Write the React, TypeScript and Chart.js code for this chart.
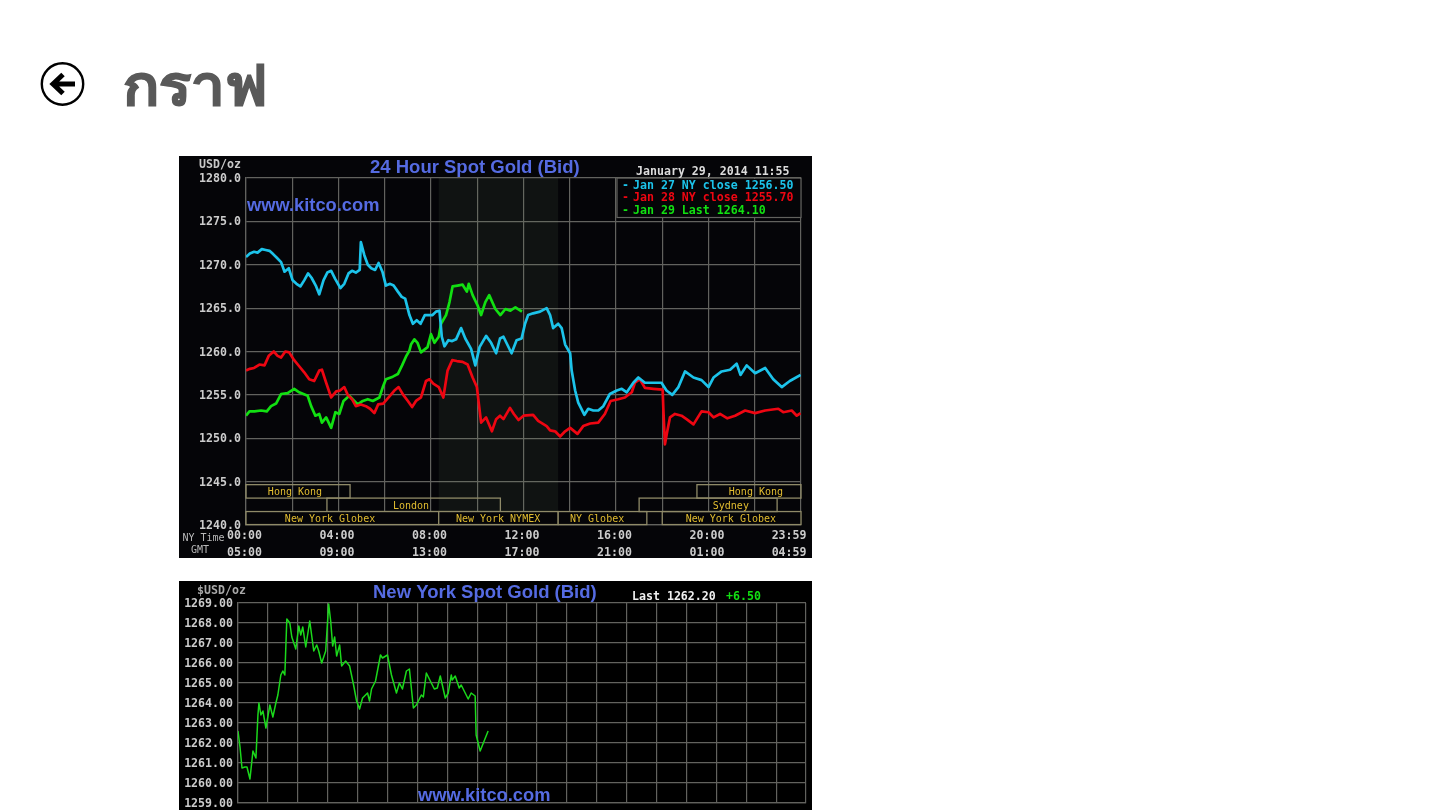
import React, { useEffect, useRef } from "react";
import { Chart, registerables } from "chart.js";

Chart.register(...registerables);

// ---------- 24 hour chart data ----------
const blueMinutes = [0,10,21,30,41,51,61,71,80,91,100,111,121,131,141,151,161,170,181,190,201,211,221,231,245,255,266,275,285,295,298,307,316,325,335,344,354,363,374,383,394,404,413,424,433,443,453,464,473,484,493,502,508,515,525,535,545,558,569,584,595,606,623,636,649,659,668,689,702,715,724,732,745,763,780,789,797,810,819,828,841,845,854,862,878,888,901,914,927,944,962,975,988,1005,1018,1035,1078,1091,1106,1122,1139,1161,1182,1200,1213,1234,1256,1273,1283,1299,1321,1347,1368,1390,1411,1439];
const blueValues = [1270.9,1271.3,1271.5,1271.4,1271.8,1271.7,1271.6,1271.2,1270.8,1270.3,1269.2,1269.6,1268.2,1267.8,1267.5,1268.2,1269,1268.5,1267.6,1266.6,1268.2,1269.1,1269.3,1268.4,1267.3,1267.8,1269,1269.3,1269.1,1269.4,1272.6,1271.1,1270,1269.6,1269.4,1270.2,1269.2,1267.6,1267.8,1267.6,1266.9,1266.3,1266.1,1264.2,1263.2,1263.6,1263.2,1264.2,1264.2,1264.2,1264.6,1264.7,1261.7,1260.6,1261.3,1261.2,1261.4,1262.7,1261.5,1260.3,1258.4,1260.5,1261.8,1261,1259.8,1261.5,1261.7,1259.8,1261.3,1261.5,1263.2,1264.2,1264.4,1264.6,1265,1264.2,1262.7,1263.2,1262.7,1260.8,1259.8,1257.8,1255.5,1254.1,1252.7,1253.4,1253.2,1253.2,1253.7,1255.1,1255.5,1255.7,1255.3,1256.4,1257,1256.4,1256.4,1255.5,1255,1255.9,1257.7,1257,1256.7,1255.9,1257,1257.7,1257.9,1258.6,1257.3,1258.4,1257.5,1258.1,1256.8,1255.9,1256.6,1257.3];

const redMinutes = [0,10,21,35,48,59,72,82,91,102,112,125,138,151,164,177,190,197,208,221,234,244,255,264,275,285,298,311,322,333,343,356,370,385,396,408,420,431,441,454,467,476,486,500,512,523,535,547,562,575,588,599,610,623,638,649,659,668,685,695,707,720,745,758,780,789,802,815,828,841,860,875,893,914,931,946,966,983,1001,1009,1022,1035,1057,1081,1083,1087,1093,1100,1113,1130,1143,1161,1182,1200,1213,1230,1249,1269,1295,1321,1347,1381,1394,1416,1429,1439];
const redValues = [1257.8,1258,1258.1,1258.5,1258.4,1259.5,1260,1259.5,1259.3,1260,1259.9,1259,1258.3,1257.6,1256.8,1256.6,1257.8,1257.9,1256.4,1254.7,1255.4,1255.5,1255.9,1255,1254.5,1253.7,1253.9,1253.7,1253.4,1252.9,1253.9,1254,1254.7,1255.5,1255.9,1255,1254.3,1253.6,1254.3,1254.7,1256.6,1256.8,1256.3,1255.9,1254.7,1257.8,1259,1258.9,1258.8,1258.5,1257,1255.9,1251.8,1252.4,1250.8,1252.2,1252.6,1252.2,1253.5,1252.8,1252.1,1252.6,1252.7,1252,1251.4,1250.9,1250.8,1250.2,1250.8,1251.2,1250.5,1251.4,1251.7,1251.8,1252.8,1254.3,1254.5,1254.7,1255.3,1256.4,1256.8,1255.8,1255.7,1255.6,1253.2,1249.3,1250.8,1252.4,1252.8,1252.6,1252.2,1251.6,1253.1,1253,1252.4,1252.8,1252.3,1252.6,1253.2,1252.9,1253.2,1253.4,1253,1253.2,1252.6,1252.9];

const greenMinutes = [0,9,22,39,54,65,78,91,108,125,138,160,169,180,190,197,208,221,232,242,253,268,281,290,303,316,329,346,355,363,381,394,405,415,424,428,437,445,454,471,480,489,500,506,519,528,536,549,562,573,578,588,601,610,621,631,647,660,673,686,699,716];
const greenValues = [1252.6,1253.1,1253.1,1253.2,1253.1,1253.7,1254,1255.1,1255.2,1255.7,1255.3,1254.9,1253.7,1252.6,1252.8,1251.8,1252.4,1251.2,1253,1252.8,1254.3,1254.9,1254.3,1253.9,1254.3,1254.5,1254.3,1254.7,1255.9,1256.8,1257.1,1257.4,1258.4,1259.4,1260.1,1260.8,1261.4,1261,1259.9,1260.5,1262,1261,1261.7,1263.2,1264.2,1265.7,1267.5,1267.6,1267.7,1266.9,1267.8,1266.5,1265.3,1264.2,1265.7,1266.5,1264.9,1264.2,1264.9,1264.7,1265.1,1264.6];

const nyTimeLabels = ["00:00", "04:00", "08:00", "12:00", "16:00", "20:00", "23:59"];
const gmtLabels = ["05:00", "09:00", "13:00", "17:00", "21:00", "01:00", "04:59"];
const labelMinutes = [0, 240, 480, 720, 960, 1200, 1413];

const sessionNames = ["Hong Kong", "London", "New York Globex", "New York NYMEX", "NY Globex", "New York Globex", "Sydney", "Hong Kong"];
const sessionStart = [0, 210, 0, 500, 810, 1080, 1020, 1170];
const sessionEnd = [270, 660, 500, 810, 1040, 1440, 1378, 1440];
const sessionLabelAt = [127, 428, 218, 654, 911, 1258, 1258, 1323];
const sessionRow = [0, 1, 2, 2, 2, 2, 1, 0];

const legendLabels = ["Jan 27 NY close 1256.50", "Jan 28 NY close 1255.70", "Jan 29 Last 1264.10"];

// ---------- New York chart data ----------
const nyMinutes = [0,2,4,7,9,12,15,18,20,21,23,25,28,32,35,38,40,43,45,47,49,52,54,58,61,63,65,68,72,76,79,81,84,88,91,93,95,97,99,102,104,108,112,116,119,122,125,130,132,134,138,143,145,150,154,159,162,165,169,172,176,179,184,186,189,193,197,200,203,208,211,214,215,218,222,224,229,231,234,238,239,243,247,251];
const nyValues = [1262.6,1261.8,1260.75,1260.8,1260.8,1260.2,1261.6,1261.25,1263.4,1264,1263.4,1263.6,1262.75,1263.9,1263.3,1264,1264.4,1265.4,1265.6,1265.4,1268.2,1268,1267.3,1266.7,1267.85,1267.4,1267.8,1266.8,1268.1,1266.6,1266.9,1266.6,1266,1266.6,1268.95,1268.1,1266.85,1267.3,1266.35,1266.9,1265.85,1266.1,1265.85,1264.9,1264.1,1263.7,1264.25,1264.5,1264.1,1264.7,1265.1,1266.4,1266.25,1266.4,1265.4,1264.5,1265,1264.7,1265.6,1265.7,1263.75,1263.9,1264.4,1264.3,1265.5,1265.1,1264.7,1264.75,1265.35,1264.25,1264.5,1265.4,1265.15,1265.35,1264.75,1264.9,1264.4,1264.2,1264.5,1264.35,1262.4,1261.6,1262.1,1262.6];

const toPoints = (xs: number[], ys: number[]) => xs.map((x, i) => ({ x, y: ys[i] }));

const MONO = '"DejaVu Sans Mono", monospace';
const SANS = '"Liberation Sans", Arial, sans-serif';
const GRID = "#62625e";
const TITLE_BLUE = "#556be2";
const TITLE_FONT = `bold 18.5px ${SANS}`;
const LOGO_FONT = `bold 18.3px ${SANS}`;

type Txt = { t: string; x: number; y: number; font: string; color: string; align?: CanvasTextAlign };

function drawText(ctx: CanvasRenderingContext2D, list: Txt[]) {
  ctx.save();
  ctx.textBaseline = "middle";
  for (const o of list) {
    ctx.font = o.font;
    ctx.fillStyle = o.color;
    ctx.textAlign = o.align || "left";
    ctx.fillText(o.t, o.x, o.y);
  }
  ctx.restore();
}

const dayOverlay = {
  id: "dayOverlay",
  beforeDatasetsDraw(chart: any) {
    const { ctx, scales, chartArea } = chart;
    const x = scales.x, y = scales.y;
    ctx.save();
    // NYMEX floor hours shading
    ctx.fillStyle = "rgba(120,150,110,0.10)";
    const sx = x.getPixelForValue(500), ex = x.getPixelForValue(810);
    ctx.fillRect(sx, chartArea.top, ex - sx, y.getPixelForValue(1241.55) - chartArea.top);
    // session boxes
    const rowTop = [1244.65, 1243.1, 1241.55];
    const rowBottom = [1243.1, 1241.55, 1240.05];
    sessionNames.forEach((name, i) => {
      const a = x.getPixelForValue(sessionStart[i]);
      const b = x.getPixelForValue(sessionEnd[i]);
      const t = y.getPixelForValue(rowTop[sessionRow[i]]);
      const u = y.getPixelForValue(rowBottom[sessionRow[i]]);
      if (sessionRow[i] === 2) {
        ctx.fillStyle = "#050508";
        ctx.fillRect(a, t, b - a, u - t);
      }
      ctx.strokeStyle = "#8f8a68";
      ctx.lineWidth = 1.3;
      ctx.strokeRect(a, t, b - a, u - t);
      ctx.fillStyle = "#e2bd30";
      ctx.font = `10px ${MONO}`;
      ctx.textAlign = "center";
      ctx.textBaseline = "middle";
      ctx.fillText(name, x.getPixelForValue(sessionLabelAt[i]), (t + u) / 2 + 1.2);
    });
    ctx.restore();
  },
  afterDatasetsDraw(chart: any) {
    const ctx = chart.ctx as CanvasRenderingContext2D;
    // legend panel
    ctx.save();
    ctx.fillStyle = "#050508";
    ctx.fillRect(438, 23, 184, 39);
    ctx.strokeStyle = GRID;
    ctx.lineWidth = 1.2;
    ctx.strokeRect(438, 22, 184, 39.5);
    ctx.restore();
    const bold = `bold 11.6px ${MONO}`;
    const colors = ["#1cc3ea", "#ee0612", "#12e012"];
    const rows = [29.5, 42, 55];
    drawText(ctx, [
      { t: "USD/oz", x: 20, y: 9, font: bold, color: "#c8c8c8" },
      { t: "24 Hour Spot Gold (Bid)", x: 191, y: 11.5, font: TITLE_FONT, color: TITLE_BLUE },
      { t: "www.kitco.com", x: 68, y: 50, font: LOGO_FONT, color: TITLE_BLUE },
      { t: "January 29, 2014 11:55", x: 457, y: 15.5, font: bold, color: "#dcdcdc" },
      { t: "NY Time", x: 3.5, y: 382.5, font: `10px ${MONO}`, color: "#b9b9b9" },
      { t: "GMT", x: 12, y: 394.5, font: `10px ${MONO}`, color: "#b9b9b9" },
      ...legendLabels.map((t, i) => ({ t, x: 454, y: rows[i], font: bold, color: colors[i] })),
      ...legendLabels.map((_, i) => ({ t: "-", x: 443, y: rows[i], font: bold, color: colors[i] })),
    ]);
  },
};

const nyOverlay = {
  id: "nyOverlay",
  afterDatasetsDraw(chart: any) {
    const bold = `bold 11.6px ${MONO}`;
    drawText(chart.ctx, [
      { t: "$USD/oz", x: 18, y: 9.5, font: bold, color: "#a9a9a9" },
      { t: "New York Spot Gold (Bid)", x: 194, y: 11.5, font: TITLE_FONT, color: TITLE_BLUE },
      { t: "Last 1262.20", x: 453, y: 15.5, font: bold, color: "#f0f0f0" },
      { t: "+6.50", x: 547, y: 15.5, font: bold, color: "#12e012" },
      { t: "www.kitco.com", x: 239, y: 215, font: LOGO_FONT, color: TITLE_BLUE },
    ]);
  },
};

function fixedWidth(w: number) {
  return (s: any) => { s.width = w; s.paddingTop = 0; s.paddingBottom = 0; };
}
function fixedHeight(h: number) {
  return (s: any) => { s.height = h; s.paddingLeft = 0; s.paddingRight = 0; };
}

const line = (data: any[], color: string, width: number) => ({
  data, borderColor: color, borderWidth: width, pointRadius: 0, tension: 0, borderJoinStyle: "round", parsing: false, normalized: true,
});

function DayChart() {
  const ref = useRef<HTMLCanvasElement>(null);
  useEffect(() => {
    const chart = new Chart(ref.current!, {
      type: "line",
      data: {
        datasets: [
          line(toPoints(blueMinutes, blueValues), "#1cc3ea", 2.7),
          line(toPoints(redMinutes, redValues), "#ee0612", 2.7),
          line(toPoints(greenMinutes, greenValues), "#12e012", 2.7),
        ] as any,
      },
      options: {
        responsive: false,
        animation: false,
        layout: { padding: { left: 0, right: 11, top: 22, bottom: 0 } },
        plugins: { legend: { display: false }, tooltip: { enabled: false } },
        scales: {
          x: {
            type: "linear", min: 0, max: 1440,
            grid: { color: GRID, lineWidth: 1.2, drawTicks: false },
            border: { color: GRID, width: 1.2 },
            ticks: { display: false, stepSize: 120 },
            afterFit: fixedHeight(0),
          },
          xLabels: {
            type: "linear", position: "bottom", min: 0, max: 1440,
            grid: { display: false, drawTicks: false },
            border: { display: false },
            afterBuildTicks: (a: any) => { a.ticks = labelMinutes.map((value) => ({ value })); },
            ticks: {
              autoSkip: false, maxRotation: 0, padding: 3, labelOffset: -1.5,
              color: "#cccccc",
              font: { family: MONO, size: 11.6, weight: "bold", lineHeight: 1.41 },
              callback: (_: any, i: number) => [nyTimeLabels[i], gmtLabels[i]],
            },
            afterFit: fixedHeight(33),
          },
          y: {
            type: "linear", min: 1240, max: 1280,
            grid: { color: GRID, lineWidth: 1.2, drawTicks: false },
            border: { color: GRID, width: 1.2 },
            ticks: {
              stepSize: 5, padding: 5, labelOffset: 1, color: "#cccccc",
              font: { family: MONO, size: 11.6, weight: "bold" },
              callback: (v: any) => Number(v).toFixed(1),
            },
            afterFit: fixedWidth(67),
          },
        } as any,
      },
      plugins: [dayOverlay as any],
    });
    return () => chart.destroy();
  }, []);
  return <canvas ref={ref} width={633} height={402} style={{ position: "absolute", left: 179, top: 156, background: "#050508", filter: "blur(0.45px)" }} />;
}

function NyChart() {
  const ref = useRef<HTMLCanvasElement>(null);
  useEffect(() => {
    const chart = new Chart(ref.current!, {
      type: "line",
      data: { datasets: [line(toPoints(nyMinutes, nyValues), "#1bd81b", 1.5)] as any },
      options: {
        responsive: false,
        animation: false,
        layout: { padding: { left: 0, right: 6, top: 22, bottom: 7 } },
        plugins: { legend: { display: false }, tooltip: { enabled: false } },
        scales: {
          x: {
            type: "linear", min: 0, max: 570,
            grid: { color: GRID, lineWidth: 1.2, drawTicks: false },
            border: { color: GRID, width: 1.2 },
            ticks: { display: false, stepSize: 30 },
            afterFit: fixedHeight(0),
          },
          y: {
            type: "linear", min: 1259, max: 1269,
            grid: { color: GRID, lineWidth: 1.2, drawTicks: false },
            border: { color: GRID, width: 1.2 },
            ticks: {
              stepSize: 1, padding: 5, labelOffset: 1, color: "#cccccc",
              font: { family: MONO, size: 11.6, weight: "bold" },
              callback: (v: any) => Number(v).toFixed(2),
            },
            afterFit: fixedWidth(59),
          },
        } as any,
      },
      plugins: [nyOverlay as any],
    });
    return () => chart.destroy();
  }, []);
  return <canvas ref={ref} width={633} height={229} style={{ position: "absolute", left: 179, top: 581, background: "#000", filter: "blur(0.45px)" }} />;
}

export default function App() {
  return (
    <div style={{ position: "absolute", left: 0, top: 0, width: 1440, height: 810, overflow: "hidden", background: "#fff" }}>
      <svg width="48" height="48" viewBox="0 0 48 48" style={{ position: "absolute", left: 39, top: 60 }}>
        <circle cx="23.5" cy="24" r="20.7" fill="#fff" stroke="#000" strokeWidth="2.4" />
        <path d="M36 24 H14 M24 14.5 L14 24 L24 33.5" fill="none" stroke="#000" strokeWidth="5" />
      </svg>
      <div style={{ position: "absolute", left: 123, top: 47, fontFamily: '"Noto Sans", "DejaVu Sans", sans-serif', fontWeight: 700, fontSize: 56, lineHeight: "72px", color: "#595959", whiteSpace: "nowrap", WebkitTextStroke: "1.2px #595959", transform: "scaleX(1.07)", transformOrigin: "left center" }}>กราฟ</div>
      <DayChart />
      <NyChart />
    </div>
  );
}
